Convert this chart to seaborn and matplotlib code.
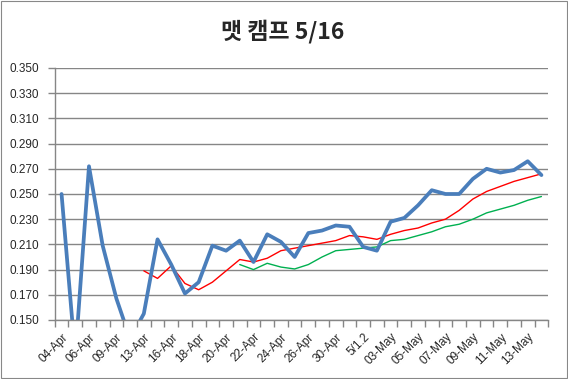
import numpy as np
import pandas as pd
import seaborn as sns
import matplotlib.pyplot as plt
from matplotlib.patches import Rectangle
from matplotlib.ticker import FormatStrFormatter

nan = np.nan

# game dates (every other one is labelled on the axis)
dates = ["04-Apr", "05-Apr", "06-Apr", "08-Apr", "09-Apr", "11-Apr",
         "13-Apr", "15-Apr", "16-Apr", "17-Apr", "18-Apr", "19-Apr",
         "20-Apr", "21-Apr", "22-Apr", "23-Apr", "24-Apr", "25-Apr",
         "26-Apr", "28-Apr", "30-Apr", "5/1.1", "5/1.2", "02-May",
         "03-May", "04-May", "05-May", "06-May", "07-May", "08-May",
         "09-May", "10-May", "11-May", "12-May", "13-May", "14-May"]

avg_blue = [0.250, 0.121, 0.272, 0.209, 0.167, 0.135,
            0.155, 0.214, 0.194, 0.171, 0.180, 0.209,
            0.205, 0.213, 0.196, 0.218, 0.212, 0.200,
            0.219, 0.221, 0.225, 0.224, 0.208, 0.205,
            0.228, 0.231, 0.241, 0.253, 0.250, 0.250,
            0.262, 0.270, 0.267, 0.269, 0.276, 0.265]

avg_red = [nan, nan, nan, nan, nan, nan,
           0.189, 0.183, 0.193, 0.179, 0.174, 0.180,
           0.189, 0.198, 0.196, 0.199, 0.205, 0.207,
           0.209, 0.211, 0.213, 0.217, 0.216, 0.214,
           0.218, 0.221, 0.223, 0.227, 0.230, 0.237,
           0.246, 0.252, 0.256, 0.260, 0.263, 0.266]

avg_green = [nan, nan, nan, nan, nan, nan,
             nan, nan, nan, nan, nan, nan,
             nan, 0.194, 0.190, 0.195, 0.192, 0.1905,
             0.194, 0.200, 0.205, 0.206, 0.207, 0.208,
             0.213, 0.214, 0.217, 0.220, 0.224, 0.226,
             0.230, 0.235, 0.238, 0.241, 0.245, 0.248]

df = pd.DataFrame({"idx": range(len(dates)), "date": dates,
                   "blue": avg_blue, "red": avg_red, "green": avg_green})

sns.set_style("white")
plt.rcParams["font.family"] = ["Liberation Sans", "DejaVu Sans"]

fig, ax = plt.subplots(figsize=(5.68, 3.79), dpi=100)
fig.subplots_adjust(left=0.0963, right=0.9653, top=0.8206, bottom=0.1557)

gray = "#868686"
ax.yaxis.grid(True, color=gray, lw=1)
ax.set_axisbelow(True)

for col, color, lw in [("green", "#00B050", 1.0), ("red", "#FF0000", 1.0), ("blue", "#4A7EBB", 2.7)]:
    d = df[["idx", col]].dropna()
    sns.lineplot(x="idx", y=col, data=d, color=color, lw=lw, ax=ax, legend=False)

ax.set_xlim(-0.5, len(dates) - 0.5)
ax.set_ylim(0.15, 0.35)
ax.set_yticks(np.arange(0.15, 0.3501, 0.02))
ax.yaxis.set_major_formatter(FormatStrFormatter("%.3f"))

ax.set_xticks(range(0, len(dates), 2))
ax.set_xticklabels(dates[::2], rotation=45, ha="right", rotation_mode="anchor")
ax.set_xticks(np.arange(-0.5, len(dates), 1), minor=True)
ax.tick_params(axis="x", which="major", length=0, pad=8, labelsize=8.5)
ax.tick_params(axis="x", which="minor", length=5, color=gray, width=1, direction="out", bottom=True)
ax.tick_params(axis="y", length=5, color=gray, width=1, direction="out", left=True, pad=6, labelsize=8.5)

ax.set_xlabel("")
ax.set_ylabel("")
for s in ["top", "right"]:
    ax.spines[s].set_visible(False)
for s in ["left", "bottom"]:
    ax.spines[s].set_color(gray)
    ax.spines[s].set_linewidth(1)

fig.text(0.498, 0.9156, "맷 캠프 5/16", ha="center", va="center", fontsize=16.5,
         fontweight="bold", family=["Noto Sans CJK KR", "DejaVu Sans"])

fig.add_artist(Rectangle((0.001, 0.0015), 0.998, 0.997, transform=fig.transFigure,
                         fill=False, edgecolor="#888888", lw=0.8))

fig.savefig("out.png", dpi=100)
